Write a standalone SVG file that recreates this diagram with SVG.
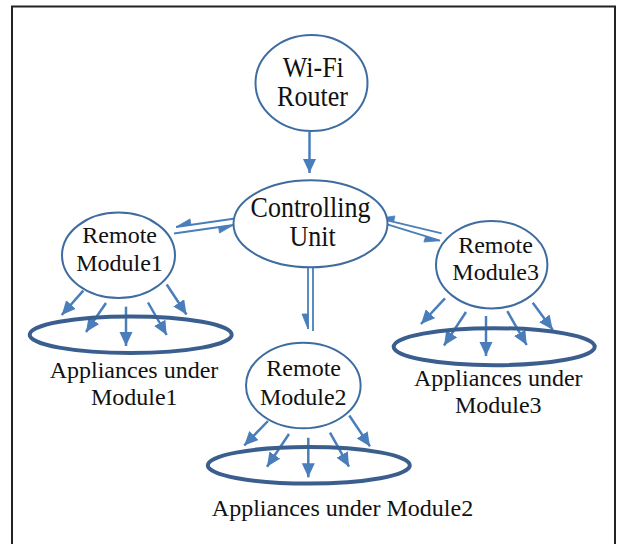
<svg xmlns="http://www.w3.org/2000/svg" width="624" height="544" viewBox="0 0 624 544">
<defs>
<style>
.node{fill:#fff;stroke:#3F6CA0;stroke-width:2}
.app{fill:none;stroke:#3A5F8E;stroke-width:4}
.t{font-family:"Liberation Serif","Times New Roman",serif;fill:#111;text-anchor:middle}
.t24{font-size:24px}
.t26{font-size:26px}
.arr{stroke:#4A7EBB;stroke-width:2.5;fill:none;marker-end:url(#ah)}
.hl{stroke:#4A7EBB;stroke-width:1.8;fill:none}
.hh{fill:#4A7EBB;stroke:#4A7EBB;stroke-width:0.8;stroke-linejoin:miter}
</style>
<marker id="ah" markerUnits="userSpaceOnUse" markerWidth="15" markerHeight="14" refX="14" refY="6.5" orient="auto" viewBox="0 0 15 14">
<path d="M0,0 L14,6.5 L0,13 z" fill="#4A7EBB"/>
</marker>
</defs>
<rect x="12" y="6.5" width="603" height="560" fill="#fff" stroke="#222" stroke-width="2"/>

<g id="connectors">
<path class="arr" d="M309.5,132 L309.5,173"/>
<!-- CU <-> RM1 -->
<path class="hl" d="M238.5,218 L176,227"/>
<polygon class="hh" points="176,227 190.85,224.86 190,218.9"/>
<path class="hl" d="M174,233.5 L233.5,225"/>
<polygon class="hh" points="233.5,225 218.65,227.12 219.5,233.06"/>
<!-- CU <-> RM3 -->
<path class="hl" d="M441.7,233.3 L379,218.3"/>
<polygon class="hh" points="379,218.3 393.58,221.79 394.98,215.96"/>
<path class="hl" d="M378.3,221.7 L440,240.7"/>
<polygon class="hh" points="440,240.7 425.66,236.29 423.9,242.03"/>
<!-- CU <-> RM2 -->
<path class="hl" d="M308,252 L308,329"/>
<polygon class="hh" points="308,329 308,314 302,314"/>
<path class="hl" d="M313,331 L313,252"/>
<polygon class="hh" points="313,252 313,267 319,267"/>
<!-- RM1 to appliances -->
<path class="arr" d="M83.3,290.7 L61.7,315"/>
<path class="arr" d="M106,303 L86,332"/>
<path class="arr" d="M126,306.7 L126,346"/>
<path class="arr" d="M148,302.5 L166.7,335"/>
<path class="arr" d="M166.7,284.5 L186.5,314.5"/>
<!-- RM3 to appliances -->
<path class="arr" d="M445,298.3 L421,324"/>
<path class="arr" d="M466,312 L444,345.5"/>
<path class="arr" d="M486,316 L486,356"/>
<path class="arr" d="M507.3,311.2 L526.7,345"/>
<path class="arr" d="M532.7,302.7 L552.7,329.7"/>
<!-- RM2 to appliances -->
<path class="arr" d="M268,421 L244.2,445.5"/>
<path class="arr" d="M289,434 L267,466.7"/>
<path class="arr" d="M308.3,437.8 L308.3,477.3"/>
<path class="arr" d="M330,432.7 L349,466.7"/>
<path class="arr" d="M349.3,415.5 L370,446.4"/>
</g>

<g id="wifi-router">
<ellipse class="node" cx="311.5" cy="83" rx="56" ry="48"/>
<text class="t t26" transform="translate(313.3,76.7) scale(1,1.1)">Wi-Fi</text>
<text class="t t26" transform="translate(312.5,106) scale(1,1.1)">Router</text>
</g>

<g id="controlling-unit">
<ellipse class="node" cx="310.5" cy="223.8" rx="77" ry="43.5"/>
<text class="t t26" transform="translate(310.5,217.3) scale(1,1.1)">Controlling</text>
<text class="t t26" transform="translate(312.5,246) scale(1,1.1)">Unit</text>
</g>

<g id="remote-module1">
<ellipse class="node" cx="118.5" cy="255.3" rx="56.5" ry="42.7"/>
<text class="t t24" x="119.7" y="243.3">Remote</text>
<text class="t t24" x="119.5" y="270.7">Module1</text>
</g>

<g id="remote-module3">
<ellipse class="node" cx="491.7" cy="264.7" rx="55.7" ry="43.7"/>
<text class="t t24" x="495.5" y="253.3">Remote</text>
<text class="t t24" x="495.7" y="280">Module3</text>
</g>

<g id="remote-module2">
<ellipse class="node" cx="303.3" cy="385.5" rx="57.3" ry="42.8"/>
<text class="t t24" x="303.7" y="375.5">Remote</text>
<text class="t t24" x="303.3" y="404.5">Module2</text>
</g>

<g id="appliances-module1">
<ellipse class="app" cx="130.7" cy="334.7" rx="101" ry="18.3"/>
<text class="t t24" x="134" y="377.7">Appliances under</text>
<text class="t t24" x="134.3" y="405">Module1</text>
</g>

<g id="appliances-module3">
<ellipse class="app" cx="494.2" cy="346.7" rx="100.5" ry="18.5"/>
<text class="t t24" x="498.3" y="386">Appliances under</text>
<text class="t t24" x="498.3" y="413.3">Module3</text>
</g>

<g id="appliances-module2">
<ellipse class="app" cx="308.8" cy="465.3" rx="101" ry="18.3"/>
<text class="t t24" x="342.5" y="515.5">Appliances under Module2</text>
</g>
</svg>
